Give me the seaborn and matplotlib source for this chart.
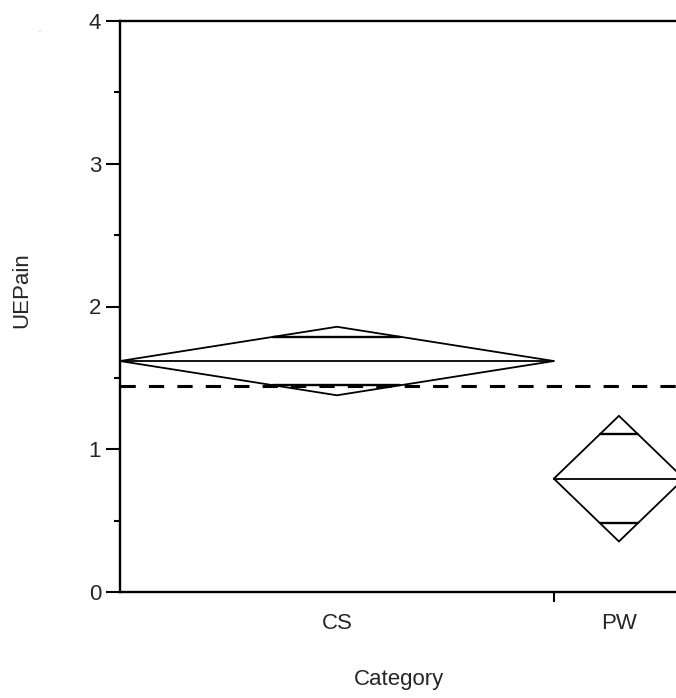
import matplotlib
matplotlib.use("Agg")
import matplotlib.pyplot as plt
import seaborn as sns
import numpy as np
from matplotlib.ticker import FixedLocator, NullFormatter, FixedFormatter

sns.set_style("ticks")
plt.rcParams['font.family'] = ['Liberation Sans', 'DejaVu Sans']

# Data
categories = ["CS", "PW"]
counts = [10, 3]                 # group sizes (drive column widths)
means = [1.618, 0.794]           # group means
ci_half = [0.24, 0.44]           # 95% CI half-widths
grand_mean = 1.44
y_ticks = [0, 1, 2, 3, 4]
y_minor = [0.5, 1.5, 2.5, 3.5]

fig = plt.figure(figsize=(6.76, 6.98), dpi=100)
W, H = 676, 698
ax = fig.add_axes([120 / W, (H - 592) / H, 564 / W, 571 / H])

edges = np.concatenate([[0], np.cumsum(counts)])
lw = 1.3
for i, cat in enumerate(categories):
    x0, x1 = edges[i], edges[i + 1]
    xc = (x0 + x1) / 2
    m, h = means[i], ci_half[i]
    # diamond
    ax.plot([x0, xc, x1, xc, x0], [m, m + h, m, m - h, m], color="black", lw=lw,
            solid_joinstyle="miter")
    # mean line
    ax.plot([x0, x1], [m, m], color="black", lw=lw)
    # overlap marks
    d = h / np.sqrt(2)
    frac = 1 - d / h
    half_w = (x1 - x0) / 2 * frac
    for yy in (m + d, m - d):
        ax.plot([xc - half_w, xc + half_w], [yy, yy], color="black", lw=1.7)

# grand mean dashed line
ax.plot([edges[0], edges[-1]], [grand_mean, grand_mean], color="black", lw=2.2,
        dashes=(5, 4.3), dash_capstyle="butt")

ax.set_xlim(edges[0], edges[-1])
ax.set_ylim(0, 4)

fs = 16
# y ticks
ax.yaxis.set_major_locator(FixedLocator(y_ticks))
ax.yaxis.set_minor_locator(FixedLocator(y_minor))
ax.set_yticklabels([str(t) for t in y_ticks])
ax.tick_params(axis="y", which="major", length=10, width=1.5, pad=3.5,
               labelsize=fs, color="black")
ax.tick_params(axis="y", which="minor", length=4.3, width=1.5, color="black")

# x ticks: boundaries as major ticks, labels at centers via minor ticks
centers = [(edges[i] + edges[i + 1]) / 2 for i in range(len(categories))]
ax.xaxis.set_major_locator(FixedLocator(list(edges[1:-1])))
ax.xaxis.set_major_formatter(NullFormatter())
ax.xaxis.set_minor_locator(FixedLocator(centers))
ax.xaxis.set_minor_formatter(FixedFormatter(categories))
ax.tick_params(axis="x", which="major", length=7.5, width=1.5, color="black")
ax.tick_params(axis="x", which="minor", length=0, pad=15, labelsize=fs)

for s in ["left", "bottom", "top"]:
    ax.spines[s].set_linewidth(1.7)
    ax.spines[s].set_color("black")
ax.spines["right"].set_visible(False)

ax.set_ylabel("UEPain", fontsize=fs)
ax.set_xlabel("Category", fontsize=fs)
ax.xaxis.set_label_coords((399 - 120) / 564, -(669 - 592) / 571)
ax.yaxis.set_label_coords(-(120 - 32) / 564, (592 - 290) / 571)

fig.text(39 / W, 1 - 32 / H, ".", color="gray", fontsize=5, ha="center", va="baseline")

fig.savefig("out.png", dpi=100)
